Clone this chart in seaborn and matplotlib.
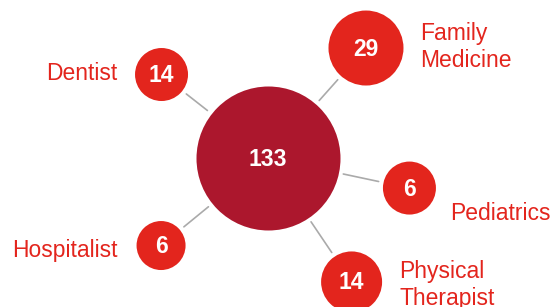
import numpy as np
import pandas as pd
import matplotlib
matplotlib.use("Agg")
import matplotlib.pyplot as plt
import seaborn as sns

# Data
hub_label = "133"
hub_value = 133
specialties = ["Dentist", "Family\nMedicine", "Pediatrics", "Hospitalist", "Physical\nTherapist"]
counts = [14, 29, 6, 6, 14]

# Layout (pixels, hub-relative polar placement)
angles = [141.9, 48.3, -12.0, -140.7, -56.0]
distances = [135.3, 147.3, 144.6, 138.2, 149.5]
radii = [26.5, 37.5, 26.5, 24.5, 30.5]
hub_xy = (268, 158)
hub_radius = 72
gap = 5

hub_color = "#AC172D"
node_color = "#E3251D"
line_color = "#AAAAAA"

sns.set_theme(style="white")
plt.rcParams["font.family"] = ["Liberation Sans", "DejaVu Sans"]

fig = plt.figure(figsize=(5.54, 3.07), dpi=100)
ax = fig.add_axes([0, 0, 1, 1])

rad = np.deg2rad(angles)
df = pd.DataFrame({
    "label": specialties,
    "count": counts,
    "x": hub_xy[0] + np.array(distances) * np.cos(rad),
    "y": hub_xy[1] - np.array(distances) * np.sin(rad),
    "r": radii,
})

# connector lines
for a, d, r in zip(rad, distances, radii):
    ux, uy = np.cos(a), -np.sin(a)
    x0 = hub_xy[0] + ux * (hub_radius + gap)
    y0 = hub_xy[1] + uy * (hub_radius + gap)
    x1 = hub_xy[0] + ux * (d - r - gap)
    y1 = hub_xy[1] + uy * (d - r - gap)
    ax.plot([x0, x1], [y0, y1], color=line_color, linewidth=1.2, zorder=1)

# px radius -> scatter size in pt^2 (dpi 100)
def to_s(r):
    return (2 * r * 72 / 100) ** 2

sns.scatterplot(x=[hub_xy[0]], y=[hub_xy[1]], s=to_s(hub_radius), color=hub_color,
                linewidth=0, ax=ax, zorder=2, legend=False)
sns.scatterplot(data=df, x="x", y="y", s=[to_s(r) for r in df["r"]], color=node_color,
                linewidth=0, ax=ax, zorder=2, legend=False)
ax.set_xlim(0, 554)
ax.set_ylim(307, 0)
ax.set_axis_off()

ax.text(hub_xy[0], hub_xy[1] + 1, hub_label, color="white", fontsize=16.5,
        fontweight="bold", ha="center", va="center", zorder=3)
for _, row in df.iterrows():
    ax.text(row["x"], row["y"] + 1, str(row["count"]), color="white", fontsize=16.5,
            fontweight="bold", ha="center", va="center", zorder=3)

# category labels
label_pos = {
    "Dentist": (117, 73, "right"),
    "Family\nMedicine": (420, 47, "left"),
    "Pediatrics": (450, 214, "left"),
    "Hospitalist": (118, 250, "right"),
    "Physical\nTherapist": (399, 285, "left"),
}
for name in specialties:
    lx, ly, ha = label_pos[name]
    ax.text(lx, ly, name, color=node_color, fontsize=16.5, ha=ha, va="center",
            linespacing=1.22, zorder=3)

fig.savefig("out.png", dpi=100)
